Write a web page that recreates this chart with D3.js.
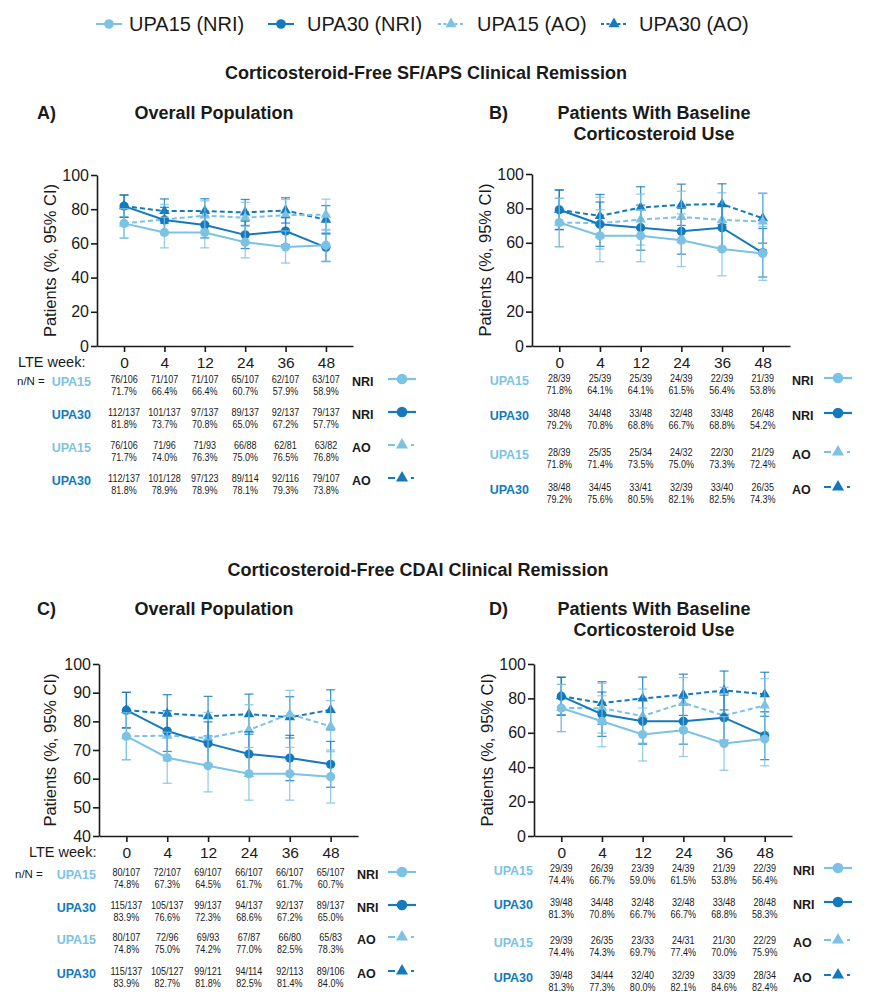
<!DOCTYPE html>
<html><head><meta charset="utf-8">
<script src="https://cdn.jsdelivr.net/npm/d3@7"></script>
<style>
body{margin:0;background:#fff}
svg{display:block}
text{font-family:"Liberation Sans",Arial,Helvetica,sans-serif;fill:#1a1a1a}
</style>
</head><body>
<svg id="c" width="870" height="998"></svg>
<script>
// ---------------- DATA ----------------
const weeks = ["0","4","12","24","36","48"];
const seriesNames = ["UPA15 (NRI)","UPA30 (NRI)","UPA15 (AO)","UPA30 (AO)"];
const rowLabels = ["UPA15","UPA30","UPA15","UPA30"];
const rowMethods = ["NRI","NRI","AO","AO"];
const sectionTitles = ["Corticosteroid-Free SF/APS Clinical Remission","Corticosteroid-Free CDAI Clinical Remission"];
const panelTitles = [["Overall Population"],["Patients With Baseline","Corticosteroid Use"],["Overall Population"],["Patients With Baseline","Corticosteroid Use"]];
const panelLetters = ["A)","B)","C)","D)"];
const yLabel = "Patients (%, 95% CI)";

// series order in each array: UPA15 NRI, UPA30 NRI, UPA15 AO, UPA30 AO
const A_n   = [[76,71,71,65,62,63],[112,101,97,89,92,79],[76,71,71,66,62,63],[112,101,97,89,92,79]];
const A_N   = [[106,107,107,107,107,107],[137,137,137,137,137,137],[106,96,93,88,81,82],[137,128,123,114,116,107]];
const A_pct = [[71.7,66.4,66.4,60.7,57.9,58.9],[81.8,73.7,70.8,65.0,67.2,57.7],[71.7,74.0,76.3,75.0,76.5,76.8],[81.8,78.9,78.9,78.1,79.3,73.8]];
const A_lo  = [[63.1,57.4,57.4,51.5,48.5,49.6],[75.3,66.3,63.2,57.0,59.3,49.4],[63.1,65.2,67.7,66.0,67.3,67.7],[75.3,71.8,71.7,70.5,71.9,65.5]];
const A_hi  = [[80.3,75.3,75.3,70.0,67.3,68.2],[88.3,81.1,78.4,73.0,75.1,66.0],[80.3,82.8,84.9,84.0,85.7,85.9],[88.3,86.0,86.1,85.7,86.7,82.1]];

const B_n   = [[28,25,25,24,22,21],[38,34,33,32,33,26],[28,25,25,24,22,21],[38,34,33,32,33,26]];
const B_N   = [[39,39,39,39,39,39],[48,48,48,48,48,48],[39,35,34,32,30,29],[48,45,41,39,40,35]];
const B_pct = [[71.8,64.1,64.1,61.5,56.4,53.8],[79.2,70.8,68.8,66.7,68.8,54.2],[71.8,71.4,73.5,75.0,73.3,72.4],[79.2,75.6,80.5,82.1,82.5,74.3]];
const B_lo  = [[57.7,49.0,49.0,46.2,40.8,38.2],[67.7,57.9,55.7,53.4,55.7,40.1],[57.7,56.4,58.7,60.0,57.5,56.1],[67.7,63.0,68.4,70.1,70.7,59.8]];
const B_hi  = [[85.9,79.2,79.2,76.8,72.0,69.4],[90.7,83.7,81.9,80.0,81.9,68.3],[85.9,86.4,88.3,90.0,89.1,88.7],[90.7,88.1,92.6,94.1,94.3,88.8]];

const C_n   = [[80,72,69,66,66,65],[115,105,99,94,92,89],[80,72,69,67,66,65],[115,105,99,94,92,89]];
const C_N   = [[107,107,107,107,107,107],[137,137,137,137,137,137],[107,96,93,87,80,83],[137,127,121,114,113,106]];
const C_pct = [[74.8,67.3,64.5,61.7,61.7,60.7],[83.9,76.6,72.3,68.6,67.2,65.0],[74.8,75.0,74.2,77.0,82.5,78.3],[83.9,82.7,81.8,82.5,81.4,84.0]];
const C_lo  = [[66.6,58.4,55.4,52.5,52.5,51.5],[77.7,69.5,64.8,60.8,59.3,57.0],[66.6,66.3,65.3,68.2,74.2,69.4],[77.7,76.1,74.9,75.5,74.2,77.0]];
const C_hi  = [[83.0,76.2,73.6,70.9,70.9,70.0],[90.1,83.7,79.8,76.4,75.1,73.0],[83.0,83.7,83.1,85.8,90.8,87.2],[90.1,89.3,88.7,89.5,88.6,91.0]];

const D_n   = [[29,26,23,24,21,22],[39,34,32,32,33,28],[29,26,23,24,21,22],[39,34,32,32,33,28]];
const D_N   = [[39,39,39,39,39,39],[48,48,48,48,48,48],[39,35,33,31,30,29],[48,44,40,39,39,34]];
const D_pct = [[74.4,66.7,59.0,61.5,53.8,56.4],[81.3,70.8,66.7,66.7,68.8,58.3],[74.4,74.3,69.7,77.4,70.0,75.9],[81.3,77.3,80.0,82.1,84.6,82.4]];
const D_lo  = [[60.7,51.9,43.6,46.2,38.2,40.8],[70.3,57.9,53.4,53.4,55.7,44.4],[60.7,59.8,54.0,62.7,53.6,60.3],[70.3,64.9,67.6,70.1,73.3,69.6]];
const D_hi  = [[88.1,81.5,74.4,76.8,69.4,72.0],[92.3,83.7,80.0,80.0,81.9,72.3],[88.1,88.8,85.4,92.1,86.4,91.5],[92.3,89.7,92.4,94.1,95.9,95.2]];

// ---------------- STYLE / LAYOUT ----------------
const LIGHT = "#7cc2e4", DARK = "#1479bd";
const seriesColor = [LIGHT, DARK, LIGHT, DARK];
const seriesAO = [false, false, true, true];
const drawOrder = [3, 2, 1, 0];

const panels = [
  {pct:A_pct,n:A_n,N:A_N,lo:A_lo,hi:A_hi, x0:97,x1:353,yTop:175,yBot:346,dom:[0,100],step:20,
   letterX:37,titleX:214,titleY:[113],ylabX:50,lte:true,lteX:18,nnX:17,labelRight:91,
   rowY:[381,414,447,480],methX:352,mkX0:388,mkX1:416},
  {pct:B_pct,n:B_n,N:B_N,lo:B_lo,hi:B_hi, x0:532,x1:790,yTop:174,yBot:346,dom:[0,100],step:20,
   letterX:489,titleX:654,titleY:[113,134],ylabX:485,lte:false,labelRight:529,
   rowY:[380,415,454,489],methX:792,mkX0:824,mkX1:852},
  {pct:C_pct,n:C_n,N:C_N,lo:C_lo,hi:C_hi, x0:99,x1:358,yTop:664,yBot:836,dom:[40,100],step:10,
   letterX:37,titleX:214,titleY:[609],ylabX:50,lte:true,lteX:29,nnX:15,labelRight:96,
   rowY:[874,907,939,973],methX:357,mkX0:388,mkX1:416},
  {pct:D_pct,n:D_n,N:D_N,lo:D_lo,hi:D_hi, x0:534,x1:792,yTop:664,yBot:836,dom:[0,100],step:20,
   letterX:489,titleX:654,titleY:[609,630],ylabX:487,lte:false,labelRight:533,
   rowY:[870,904,942,977],methX:793,mkX0:824,mkX1:852}
];

const svg = d3.select("#c");

function drawMarker(g, x, y, i, scale) {
  scale = scale || 1;
  if (seriesAO[i]) {
    g.append("path")
      .attr("d", d3.symbol(d3.symbolTriangle, 48 * scale * scale)())
      .attr("transform", `translate(${x},${y})`)
      .attr("fill", seriesColor[i]);
  } else {
    g.append("circle").attr("cx", x).attr("cy", y).attr("r", 4.6 * scale)
      .attr("fill", seriesColor[i]);
  }
}

// ---------- Legend ----------
const legX = [109, 281, 451, 614], legTextX = [129, 307, 477, 639], legY = 24;
seriesNames.forEach((name, i) => {
  const g = svg.append("g");
  g.append("line").attr("x1", legX[i] - 13).attr("x2", legX[i] + 13)
    .attr("y1", legY).attr("y2", legY)
    .attr("stroke", seriesColor[i]).attr("stroke-width", 2)
    .attr("stroke-dasharray", seriesAO[i] ? "3,2.5" : null);
  drawMarker(g, legX[i], legY, i, 1.05);
  g.append("text").attr("x", legTextX[i]).attr("y", legY).attr("dy", "0.36em")
    .attr("font-size", 20).text(name);
});

// ---------- Section titles ----------
[[426, 73], [418, 570]].forEach((p, k) => {
  svg.append("text").attr("x", p[0]).attr("y", p[1]).attr("dy", "0.36em")
    .attr("text-anchor", "middle").attr("font-weight", "bold").attr("font-size", 18)
    .text(sectionTitles[k]);
});

// ---------- Panels ----------
panels.forEach((P, pi) => {
  const g = svg.append("g");
  const x = d3.scalePoint().domain(weeks).range([P.x0, P.x1]).padding(0.67);
  const y = d3.scaleLinear().domain(P.dom).range([P.yBot, P.yTop]);

  // titles
  g.append("text").attr("x", P.letterX).attr("y", P.titleY[0]).attr("dy", "0.36em")
    .attr("font-weight", "bold").attr("font-size", 18).text(panelLetters[pi]);
  panelTitles[pi].forEach((t, k) => {
    g.append("text").attr("x", P.titleX).attr("y", P.titleY[k]).attr("dy", "0.36em")
      .attr("text-anchor", "middle").attr("font-weight", "bold").attr("font-size", 18).text(t);
  });

  // axes
  const yAxis = d3.axisLeft(y).tickValues(d3.range(P.dom[0], P.dom[1] + 1, P.step))
    .tickSize(6).tickSizeOuter(0).tickPadding(2);
  const ya = g.append("g").attr("transform", `translate(${P.x0},0)`).call(yAxis);
  ya.selectAll("text").attr("font-size", 16).style("fill", "#1a1a1a");
  const xAxis = d3.axisBottom(x).tickSize(6).tickSizeOuter(0).tickPadding(5);
  const xa = g.append("g").attr("transform", `translate(0,${P.yBot})`).call(xAxis);
  xa.selectAll("text").attr("font-size", 15.5).style("fill", "#1a1a1a");
  [ya, xa].forEach(a => {
    a.select(".domain").attr("stroke", "#1a1a1a").attr("stroke-width", 1.6);
    a.selectAll(".tick line").attr("stroke", "#1a1a1a").attr("stroke-width", 1.6);
    a.selectAll("text").attr("font-family", "'Liberation Sans',Arial,sans-serif");
  });

  // y label
  g.append("text")
    .attr("transform", `translate(${P.ylabX},${(P.yTop + P.yBot) / 2}) rotate(-90)`)
    .attr("dy", "0.36em").attr("text-anchor", "middle").attr("font-size", 16.5).text(yLabel);

  // series
  drawOrder.forEach(i => {
    const sg = g.append("g");
    // error bars
    weeks.forEach((w, j) => {
      const cx = x(w), yl = y(P.lo[i][j]), yh = y(P.hi[i][j]);
      sg.append("line").attr("x1", cx).attr("x2", cx).attr("y1", yl).attr("y2", yh)
        .attr("stroke", seriesColor[i]).attr("stroke-width", 1.3).attr("opacity", 0.8);
      [yl, yh].forEach(yy => sg.append("line").attr("x1", cx - 4.5).attr("x2", cx + 4.5)
        .attr("y1", yy).attr("y2", yy).attr("stroke", seriesColor[i])
        .attr("stroke-width", 1.3).attr("opacity", 0.8));
    });
    // line
    const line = d3.line().x((d, j) => x(weeks[j])).y(d => y(d));
    sg.append("path").datum(P.pct[i]).attr("d", line).attr("fill", "none")
      .attr("stroke", seriesColor[i]).attr("stroke-width", 2)
      .attr("stroke-dasharray", seriesAO[i] ? "5,3" : null);
    // markers
    P.pct[i].forEach((v, j) => drawMarker(sg, x(weeks[j]), y(v), i, 1));
  });

  // table
  const wkY = P.yBot + 16;
  if (P.lte) {
    g.append("text").attr("x", P.lteX).attr("y", wkY).attr("dy", "0.36em")
      .attr("font-size", 14.5).text("LTE week:");
    g.append("text").attr("x", P.nnX).attr("y", P.rowY[0]).attr("dy", "0.36em")
      .attr("font-size", 11.5).text("n/N =");
  }
  [0, 1, 2, 3].forEach(i => {
    const ry = P.rowY[i];
    g.append("text").attr("x", P.labelRight).attr("y", ry).attr("dy", "0.36em")
      .attr("text-anchor", "end").attr("font-weight", "bold").attr("font-size", 12.5)
      .style("fill", seriesColor[i]).text(rowLabels[i]);
    weeks.forEach((w, j) => {
      const cg = g.append("g").attr("transform", `translate(${x(w)},0) scale(0.86,1)`);
      cg.append("text").attr("x", 0).attr("y", ry - 2).attr("dy", "0.36em")
        .attr("text-anchor", "middle").attr("font-size", 10.5)
        .text(`${P.n[i][j]}/${P.N[i][j]}`);
      cg.append("text").attr("x", 0).attr("y", ry + 10.5).attr("dy", "0.36em")
        .attr("text-anchor", "middle").attr("font-size", 10.5)
        .text(`${P.pct[i][j].toFixed(1)}%`);
    });
    g.append("text").attr("x", P.methX).attr("y", ry).attr("dy", "0.36em")
      .attr("font-weight", "bold").attr("font-size", 12.5).text(rowMethods[i]);
    const my = ry - 2, mx = (P.mkX0 + P.mkX1) / 2;
    g.append("line").attr("x1", P.mkX0).attr("x2", P.mkX1).attr("y1", my).attr("y2", my)
      .attr("stroke", seriesColor[i]).attr("stroke-width", 2.2)
      .attr("stroke-dasharray", seriesAO[i] ? "7,4,6,6,3,20" : null);
    drawMarker(g, mx, my, i, 1.15);
  });
});
</script>
</body></html>
